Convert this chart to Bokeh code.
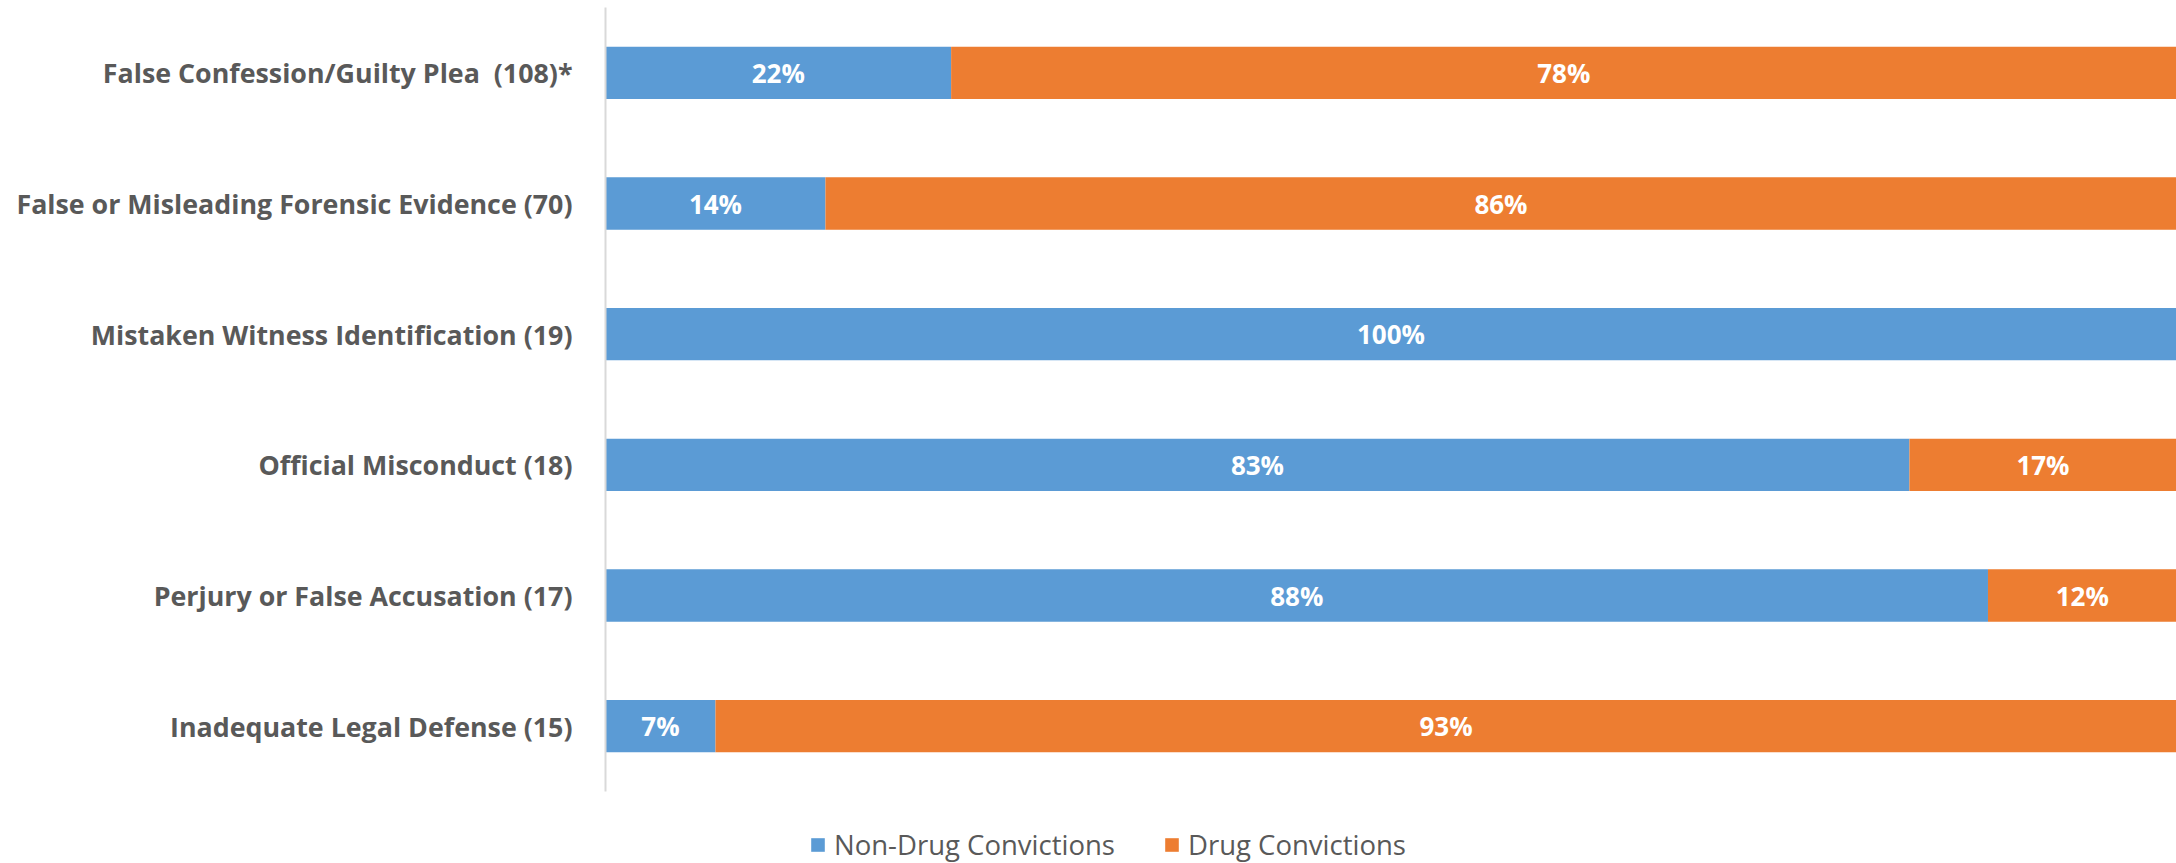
from bokeh.plotting import figure
from bokeh.models import ColumnDataSource, Legend, LegendItem, FixedTicker, Range1d
from bokeh.core.properties import value
from bokeh.embed import file_html
from bokeh.resources import INLINE

categories = [
    "False Confession/Guilty Plea \u00a0(108)*",
    "False or Misleading Forensic Evidence (70)",
    "Mistaken Witness Identification (19)",
    "Official Misconduct (18)",
    "Perjury or False Accusation (17)",
    "Inadequate Legal Defense (15)",
]
non_drug = [22, 14, 100, 83, 88, 7]
drug = [78, 86, 0, 17, 12, 93]
series_names = ["Non-Drug Convictions", "Drug Convictions"]

BLUE = "#5B9BD5"
ORANGE = "#ED7D31"
GRAY = "#595959"
FONT = "Open Sans"

W, H = 2176, 863
LEFT, TOP = 605, 7
CAT_BOTTOM = 791          # pixel where category area ends
n = len(categories)
px_per_cat = (CAT_BOTTOM - TOP) / n
extra = (H - CAT_BOTTOM) / px_per_cat

ypos = [n - 1 - i for i in range(n)]

p = figure(
    width=W, height=H,
    x_range=Range1d(0, 100),
    y_range=Range1d(-0.5 - extra, n - 0.5),
    output_backend="svg", toolbar_location=None,
    min_border_left=LEFT, min_border_right=0, min_border_top=TOP, min_border_bottom=0,
)
p.outline_line_color = None
p.xgrid.visible = False
p.ygrid.visible = False
p.xaxis.visible = False

src = ColumnDataSource(dict(
    y=ypos,
    nd_end=list(non_drug),
    d_end=[a + b for a, b in zip(non_drug, drug)],
    nd_mid=[a / 2 for a in non_drug],
    d_mid=[a + b / 2 for a, b in zip(non_drug, drug)],
    nd_lab=[f"{a}%" if a > 0 else "" for a in non_drug],
    d_lab=[f"{b}%" if b > 0 else "" for b in drug],
))

r1 = p.hbar(y="y", left=0, right="nd_end", height=0.4, source=src,
            fill_color=BLUE, line_color=None)
r2 = p.hbar(y="y", left="nd_end", right="d_end", height=0.4, source=src,
            fill_color=ORANGE, line_color=None)

for xcol, lcol in (("nd_mid", "nd_lab"), ("d_mid", "d_lab")):
    p.text(x=xcol, y="y", text=lcol, source=src,
           text_color="white", text_font=value(FONT), text_font_style="bold",
           text_font_size="26px", text_align="center", text_baseline="middle")

ax = p.yaxis[0]
ax.ticker = FixedTicker(ticks=ypos)
ax.major_label_overrides = {y: c for y, c in zip(ypos, categories)}
ax.bounds = (-0.5, n - 0.5)
ax.axis_line_color = "#D9D9D9"
ax.axis_line_width = 2
ax.major_tick_line_color = None
ax.minor_tick_line_color = None
ax.major_label_standoff = 27
ax.major_label_text_font = FONT
ax.major_label_text_font_style = "bold"
ax.major_label_text_font_size = "26.8px"
ax.major_label_text_color = GRAY

legend = Legend(
    items=[LegendItem(label=series_names[0], renderers=[r1]),
           LegendItem(label=series_names[1], renderers=[r2])],
    orientation="horizontal",
    location=(204, 0),
    glyph_width=17, glyph_height=17, label_standoff=8, spacing=48,
    label_text_font=FONT, label_text_font_size="27.5px", label_text_color=GRAY,
    label_text_line_height=1.0,
    border_line_color=None, background_fill_alpha=0, padding=0, margin=0,
)
p.add_layout(legend, "center")

open("out.html", "w").write(file_html(p, INLINE))
